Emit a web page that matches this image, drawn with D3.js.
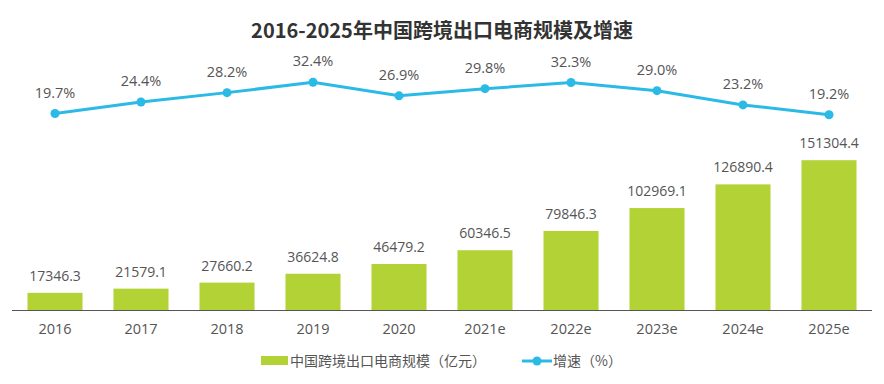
<!DOCTYPE html>
<html>
<head>
<meta charset="utf-8">
<script src="https://cdn.jsdelivr.net/npm/d3@7"></script>
<style>
  body { margin: 0; background: #fff; }
  text { font-family: "Open Sans", "Noto Sans CJK SC", sans-serif; }
</style>
</head>
<body>
<div class="chart"></div>
<script>
// data
var years = ["2016", "2017", "2018", "2019", "2020", "2021e", "2022e", "2023e", "2024e", "2025e"];
var scale = [17346.3, 21579.1, 27660.2, 36624.8, 46479.2, 60346.5, 79846.3, 102969.1, 126890.4, 151304.4];
var growth = [19.7, 24.4, 28.2, 32.4, 26.9, 29.8, 32.3, 29.0, 23.2, 19.2];

var title = "2016-2025年中国跨境出口电商规模及增速";
var barName = "中国跨境出口电商规模（亿元）";
var lineName = "增速（%）";

var width = 884, height = 384;
var barColor = "#B2D235";
var lineColor = "#2BBAE6";
var textColor = "#555";

const svg = d3.select(".chart")
  .append("svg")
  .attr("width", width)
  .attr("height", height);

// scales
const xScale = d3.scaleBand()
  .domain(years)
  .range([12, 872])
  .paddingInner(0.36)
  .paddingOuter(0.18);

const yBar = d3.scaleLinear()
  .domain([0, 200000])
  .range([310, 112]);

const yLine = d3.scaleLinear()
  .domain([0, 40])
  .range([162, 63.6]);

var cx = d => xScale(d) + xScale.bandwidth() / 2;

// title
svg.append("text")
  .attr("x", 442)
  .attr("y", 38)
  .attr("text-anchor", "middle")
  .style("font-family", "'Noto Sans CJK SC', sans-serif")
  .style("font-size", "20px")
  .style("font-weight", "bold")
  .attr("fill", "#333")
  .text(title);

// bars
svg.append("g")
  .selectAll("rect")
  .data(scale)
  .enter()
  .append("rect")
  .attr("x", (d, i) => xScale(years[i]))
  .attr("y", d => yBar(d))
  .attr("width", xScale.bandwidth())
  .attr("height", d => yBar(0) - yBar(d))
  .attr("fill", barColor);

svg.append("g")
  .selectAll("text")
  .data(scale)
  .enter()
  .append("text")
  .attr("x", (d, i) => cx(years[i]))
  .attr("y", d => yBar(d) - 12)
  .attr("text-anchor", "middle")
  .style("font-size", "14px")
  .attr("fill", textColor)
  .text(d => d.toFixed(1));

// x axis
const xAxis = d3.axisBottom(xScale).tickSize(0).tickPadding(14);
const gx = svg.append("g")
  .attr("transform", "translate(0,310)")
  .call(xAxis);
gx.select(".domain").attr("stroke", "#555").attr("d", "M12,0.5H872");
gx.selectAll("text")
  .style("font-size", "14.5px")
  .style("font-family", "'Open Sans', sans-serif")
  .attr("fill", textColor);

// line
const line = d3.line()
  .x((d, i) => cx(years[i]))
  .y(d => yLine(d));

svg.append("path")
  .datum(growth)
  .attr("d", line)
  .attr("fill", "none")
  .attr("stroke", lineColor)
  .attr("stroke-width", 3);

svg.append("g")
  .selectAll("circle")
  .data(growth)
  .enter()
  .append("circle")
  .attr("cx", (d, i) => cx(years[i]))
  .attr("cy", d => yLine(d))
  .attr("r", 4.5)
  .attr("fill", lineColor);

svg.append("g")
  .selectAll("text")
  .data(growth)
  .enter()
  .append("text")
  .attr("x", (d, i) => cx(years[i]))
  .attr("y", d => yLine(d) - 16)
  .attr("text-anchor", "middle")
  .style("font-size", "14.5px")
  .attr("fill", textColor)
  .text(d => d.toFixed(1) + "%");

// legend
var legend = svg.append("g");
legend.append("rect")
  .attr("x", 261)
  .attr("y", 356)
  .attr("width", 27)
  .attr("height", 9)
  .attr("fill", barColor);
legend.append("text")
  .attr("x", 290)
  .attr("y", 365.5)
  .style("font-family", "'Noto Sans CJK SC', sans-serif")
  .style("font-size", "14px")
  .attr("fill", textColor)
  .text(barName);
legend.append("line")
  .attr("x1", 522).attr("x2", 552)
  .attr("y1", 361).attr("y2", 361)
  .attr("stroke", lineColor)
  .attr("stroke-width", 3);
legend.append("circle")
  .attr("cx", 537).attr("cy", 361)
  .attr("r", 4.5)
  .attr("fill", lineColor);
legend.append("text")
  .attr("x", 553)
  .attr("y", 365.5)
  .style("font-family", "'Noto Sans CJK SC', sans-serif")
  .style("font-size", "14px")
  .attr("fill", textColor)
  .text(lineName);
</script>
</body>
</html>
